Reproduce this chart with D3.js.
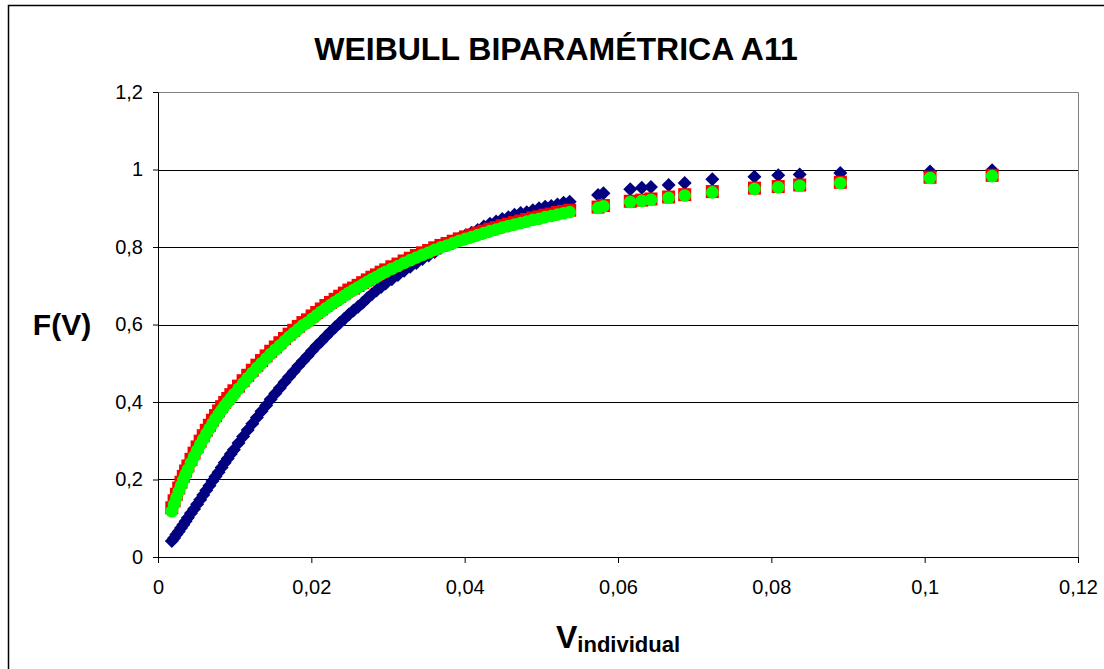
<!DOCTYPE html>
<html><head><meta charset="utf-8">
<script src="https://cdn.jsdelivr.net/npm/d3@7"></script>
<style>html,body{margin:0;padding:0;background:#fff;} svg{display:block;}</style>
</head><body>
<svg id="chart" width="1104" height="669"></svg>
<script>
const chartTitle = "WEIBULL BIPARAMÉTRICA A11";
const yTitle = "F(V)";
const xTitleMain = "V";
const xTitleSub = "individual";

// individual volumes (x)
const volumes = [
  0.0018, 0.0021, 0.0024, 0.0027, 0.0030, 0.0033, 0.0036, 0.0039,
  0.0043, 0.0047, 0.0051, 0.0055, 0.0059, 0.0063, 0.0067, 0.0071, 0.0075, 0.0079, 0.0083, 0.0087, 0.0091, 0.0095, 0.0099,
  0.0105, 0.0111, 0.0117, 0.0123, 0.0129, 0.0135, 0.0141, 0.0147, 0.0153, 0.0159, 0.0165, 0.0171, 0.0177, 0.0183, 0.0189,
  0.0195, 0.0201, 0.0207, 0.0213, 0.0219, 0.0225, 0.0231, 0.0237, 0.0243, 0.0249, 0.0255, 0.0261, 0.0267, 0.0273, 0.0279,
  0.0285, 0.0291, 0.0297,
  0.0305, 0.0313, 0.0321, 0.0329, 0.0337, 0.0345, 0.0353, 0.0361, 0.0369, 0.0377, 0.0385, 0.0393, 0.0401, 0.0409, 0.0417,
  0.0425, 0.0433, 0.0441, 0.0449, 0.0457, 0.0465, 0.0473, 0.0481, 0.0489, 0.0497, 0.0505, 0.0513, 0.0521, 0.0529, 0.0537,
  0.0574, 0.0581, 0.0616, 0.0631, 0.0643, 0.0666, 0.0687, 0.0723, 0.0778, 0.0809, 0.0837, 0.0890, 0.1007, 0.1088
];

// navy diamonds
const seriesNavy = [
  0.041, 0.049, 0.058, 0.066, 0.075, 0.083, 0.092, 0.101,
  0.113, 0.124, 0.136, 0.148, 0.160, 0.172, 0.184, 0.196, 0.208, 0.219, 0.231, 0.243, 0.254, 0.266, 0.277,
  0.294, 0.311, 0.328, 0.344, 0.360, 0.376, 0.391, 0.407, 0.422, 0.436, 0.451, 0.465, 0.479, 0.493, 0.506,
  0.519, 0.532, 0.545, 0.557, 0.569, 0.581, 0.593, 0.604, 0.615, 0.626, 0.636, 0.646, 0.656, 0.668, 0.678,
  0.688, 0.697, 0.706,
  0.717, 0.728, 0.739, 0.749, 0.759, 0.769, 0.778, 0.787, 0.798, 0.806, 0.814, 0.822, 0.830, 0.837, 0.844,
  0.853, 0.860, 0.866, 0.872, 0.877, 0.883, 0.888, 0.890, 0.895, 0.900, 0.904, 0.906, 0.910, 0.914, 0.917,
  0.934, 0.939, 0.949, 0.953, 0.955, 0.960, 0.965, 0.975, 0.981, 0.985, 0.987, 0.991, 0.995, 0.998
];

// red squares
const seriesRed = [
  0.127, 0.145, 0.162, 0.178, 0.193, 0.208, 0.222, 0.235,
  0.252, 0.268, 0.284, 0.299, 0.313, 0.327, 0.340, 0.353, 0.365, 0.377, 0.388, 0.399, 0.409, 0.419, 0.429,
  0.441, 0.455, 0.469, 0.482, 0.495, 0.507, 0.519, 0.531, 0.542, 0.553, 0.564, 0.575, 0.585, 0.595, 0.605,
  0.612, 0.622, 0.631, 0.640, 0.649, 0.657, 0.665, 0.673, 0.681, 0.689, 0.694, 0.701, 0.708, 0.715, 0.722,
  0.728, 0.735, 0.741,
  0.749, 0.756, 0.764, 0.771, 0.778, 0.785, 0.791, 0.798, 0.804, 0.809, 0.815, 0.821, 0.826, 0.831, 0.836,
  0.841, 0.846, 0.850, 0.855, 0.859, 0.863, 0.867, 0.871, 0.875, 0.878, 0.882, 0.885, 0.889, 0.892, 0.895,
  0.903, 0.907, 0.918, 0.921, 0.924, 0.929, 0.935, 0.943, 0.952, 0.956, 0.960, 0.967, 0.980, 0.985
];

// green circles
const seriesGreen = [
  0.118, 0.136, 0.153, 0.169, 0.184, 0.199, 0.213, 0.226,
  0.243, 0.259, 0.275, 0.290, 0.304, 0.318, 0.331, 0.344, 0.356, 0.368, 0.379, 0.390, 0.400, 0.410, 0.420,
  0.434, 0.448, 0.462, 0.475, 0.488, 0.500, 0.512, 0.524, 0.535, 0.546, 0.557, 0.568, 0.578, 0.588, 0.598,
  0.605, 0.615, 0.624, 0.633, 0.642, 0.650, 0.658, 0.666, 0.674, 0.682, 0.689, 0.696, 0.703, 0.710, 0.717,
  0.723, 0.730, 0.736,
  0.744, 0.751, 0.759, 0.766, 0.773, 0.780, 0.786, 0.793, 0.799, 0.804, 0.810, 0.816, 0.821, 0.826, 0.831,
  0.836, 0.841, 0.845, 0.850, 0.854, 0.858, 0.862, 0.866, 0.870, 0.873, 0.877, 0.880, 0.884, 0.887, 0.890,
  0.901, 0.905, 0.916, 0.919, 0.922, 0.927, 0.933, 0.941, 0.950, 0.954, 0.958, 0.965, 0.978, 0.983
];

const xTicks = [0, 0.02, 0.04, 0.06, 0.08, 0.1, 0.12];
const xTickLabels = ["0", "0,02", "0,04", "0,06", "0,08", "0,1", "0,12"];
const yTicks = [0, 0.2, 0.4, 0.6, 0.8, 1, 1.2];
const yTickLabels = ["0", "0,2", "0,4", "0,6", "0,8", "1", "1,2"];

const W = 1104, H = 669;
const P = {left: 158, top: 92, right: 1078, bottom: 557};
const FONT = "'Liberation Sans', Arial, Helvetica, sans-serif";

const svg = d3.select("#chart");
const x = d3.scaleLinear().domain([0, 0.12]).range([P.left, P.right]);
const y = d3.scaleLinear().domain([0, 1.2]).range([P.bottom, P.top]);

svg.append("rect").attr("width", W).attr("height", H).attr("fill", "#fff");
// outer chart border
svg.append("rect")
  .attr("x", 8.5).attr("y", 5.5).attr("width", W + 20).attr("height", H + 20)
  .attr("fill", "none").attr("stroke", "#000").attr("stroke-width", 1.5);

// plot area frame (top & right gray)
svg.append("path")
  .attr("d", `M${P.left},${P.top + 0.5}H${P.right + 0.5}V${P.bottom}`)
  .attr("fill", "none").attr("stroke", "#808080").attr("stroke-width", 1);

// gridlines
svg.append("g").selectAll("line")
  .data(yTicks.filter(v => v > 0 && v < 1.2))
  .join("line")
  .attr("x1", P.left).attr("x2", P.right)
  .attr("y1", d => Math.round(y(d)) + 0.5).attr("y2", d => Math.round(y(d)) + 0.5)
  .attr("stroke", "#000").attr("stroke-width", 1);

// axes
const yAxis = svg.append("g").attr("transform", `translate(${P.left},0)`)
  .call(d3.axisLeft(y).tickValues(yTicks).tickFormat((d, i) => yTickLabels[i])
    .tickSize(5).tickSizeOuter(0).tickPadding(10));
const xAxis = svg.append("g").attr("transform", `translate(0,${P.bottom})`)
  .call(d3.axisBottom(x).tickValues(xTicks).tickFormat((d, i) => xTickLabels[i])
    .tickSize(6).tickSizeOuter(0).tickPadding(17));
[xAxis, yAxis].forEach(g => {
  g.selectAll("path,line").attr("stroke", "#000");
  g.selectAll("text").attr("fill", "#000").style("font-family", FONT).style("font-size", "20px");
});

// data marks
const pts = volumes.map((v, i) => ({v, n: seriesNavy[i], r: seriesRed[i], g: seriesGreen[i]}));
const marks = svg.append("g");
marks.append("g").selectAll("path").data(pts).join("path")
  .attr("transform", d => `translate(${x(d.v)},${y(d.n)})`)
  .attr("d", "M0,-7L7,0L0,7L-7,0Z")
  .attr("fill", "#000080");
marks.append("g").selectAll("rect").data(pts).join("rect")
  .attr("x", d => x(d.v) - 6.5).attr("y", d => y(d.r) - 6.5)
  .attr("width", 13).attr("height", 13)
  .attr("fill", "#FF0000");
marks.append("g").selectAll("circle").data(pts).join("circle")
  .attr("cx", d => x(d.v)).attr("cy", d => y(d.g)).attr("r", 6.3)
  .attr("fill", "#00FF00");

// title
svg.append("text").attr("x", 556).attr("y", 60).attr("text-anchor", "middle")
  .style("font-family", FONT).style("font-weight", "bold").style("font-size", "32px")
  .attr("fill", "#000").text(chartTitle);

// y title
svg.append("text").attr("x", 62).attr("y", 335).attr("text-anchor", "middle")
  .style("font-family", FONT).style("font-weight", "bold").style("font-size", "30px")
  .attr("fill", "#000").text(yTitle);

// x title
const xt = svg.append("text").attr("x", (P.left + P.right) / 2).attr("y", 648).attr("text-anchor", "middle")
  .style("font-family", FONT).style("font-weight", "bold").attr("fill", "#000");
xt.append("tspan").style("font-size", "32px").text(xTitleMain);
xt.append("tspan").attr("dy", 4).style("font-size", "22px").text(xTitleSub);
</script>
</body></html>
